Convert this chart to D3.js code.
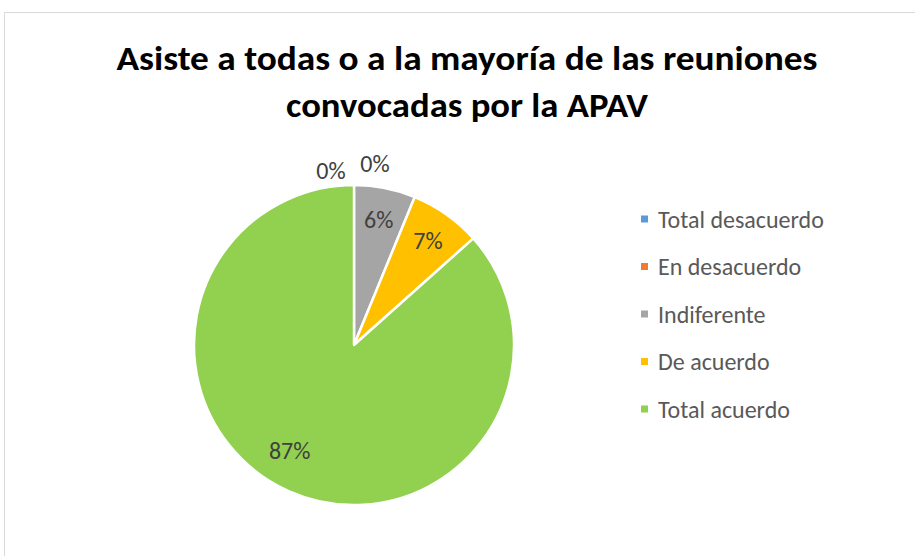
<!DOCTYPE html>
<html>
<head>
<meta charset="utf-8">
<script src="https://cdn.jsdelivr.net/npm/d3@7"></script>
<style>
  body { margin: 0; background: #fff; }
  svg { display: block; }
</style>
</head>
<body>
<svg id="chart" width="915" height="556"></svg>
<script>
// Chart data
const categories = ["Total desacuerdo", "En desacuerdo", "Indiferente", "De acuerdo", "Total acuerdo"];
const values = [0, 0, 6.2, 7.2, 86.6];
const labels = ["0%", "0%", "6%", "7%", "87%"];
const colors = ["#5b9bd5", "#ed7d31", "#a5a5a5", "#ffc000", "#92d050"];
const titleLines = ["Asiste a todas o a la mayoría de las reuniones", "convocadas por la APAV"];

const width = 915;
const height = 556;
const font = "Carlito, 'Open Sans', 'Liberation Sans', sans-serif";
const svg = d3.select("#chart");

// chart area border (only top/left visible in the frame)
svg.append("rect")
  .attr("x", 4.5)
  .attr("y", 12.5)
  .attr("width", width + 20)
  .attr("height", height + 20)
  .attr("fill", "#fff")
  .attr("stroke", "#d9d9d9")
  .attr("stroke-width", 1);

// Title
const title = svg.append("g")
  .attr("font-family", font)
  .attr("font-weight", "bold")
  .attr("font-size", 34)
  .attr("fill", "#000")
  .attr("text-anchor", "middle");
title.selectAll("text")
  .data(titleLines)
  .enter()
  .append("text")
  .attr("x", 467)
  .attr("y", (d, i) => 70 + i * 47)
  .attr("textLength", (d, i) => (i === 0 ? 701 : 362))
  .attr("lengthAdjust", "spacingAndGlyphs")
  .text((d) => d);

// Pie
const cx = 354;
const cy = 345;
const radius = 160;

const pie = d3.pie().sort(null).value((d) => d.value);
const arcs = pie(categories.map((c, i) => ({ name: c, value: values[i], label: labels[i], color: colors[i] })));

const arc = d3.arc().innerRadius(0).outerRadius(radius);
const labelArc = d3.arc().innerRadius(128).outerRadius(128);

const pieG = svg.append("g").attr("transform", `translate(${cx}, ${cy})`);

pieG.selectAll("path")
  .data(arcs.filter((d) => d.value > 0))
  .enter()
  .append("path")
  .attr("d", arc)
  .attr("fill", (d) => d.data.color)
  .attr("stroke", "#fff")
  .attr("stroke-width", 2.5)
  .attr("stroke-linejoin", "round");

// Data labels
let zeroCount = 0;
pieG.selectAll("text")
  .data(arcs)
  .enter()
  .append("text")
  .attr("font-family", font)
  .attr("font-size", 24)
  .attr("fill", "#404040")
  .attr("text-anchor", "middle")
  .attr("dominant-baseline", "central")
  .attr("transform", (d) => {
    if (d.value === 0) {
      // zero slices sit outside the rim, fanned out
      const side = zeroCount++ === 0 ? -1 : 1;
      return `translate(${side * 22 - 1}, ${-radius - (side < 0 ? 15 : 22)})`;
    }
    const [x, y] = labelArc.centroid(d);
    // Excel's best-fit nudges the big slice label a bit
    return d.value > 50 ? `translate(${x - 12}, ${y - 11})` : `translate(${x}, ${y})`;
  })
  .text((d) => d.data.label);

// Legend
const legend = svg.append("g")
  .attr("transform", "translate(641, 219)");
const rows = legend.selectAll("g")
  .data(categories)
  .enter()
  .append("g")
  .attr("transform", (d, i) => `translate(0, ${i * 47.5})`);
rows.append("rect")
  .attr("x", 0)
  .attr("y", -3.5)
  .attr("width", 7)
  .attr("height", 7)
  .attr("fill", (d, i) => colors[i]);
rows.append("text")
  .attr("x", 17)
  .attr("y", 0)
  .attr("dominant-baseline", "central")
  .attr("font-family", font)
  .attr("font-size", 24)
  .attr("fill", "#595959")
  .text((d) => d);
</script>
</body>
</html>
